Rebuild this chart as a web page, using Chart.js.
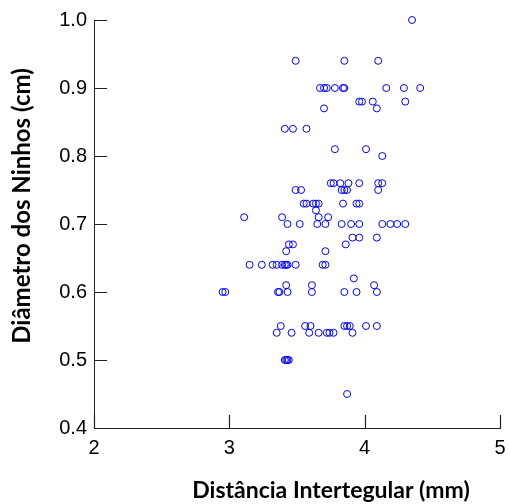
<!DOCTYPE html>
<html>
<head>
<meta charset="utf-8">
<script src="https://cdn.jsdelivr.net/npm/chart.js"></script>
<style>
  body { margin: 0; background: #fff; }
</style>
</head>
<body>
<canvas id="plots" width="508" height="504"></canvas>
<script>
// Distância intertegular (mm) - eixo X
var distancia = [
  4.35,
  3.49, 3.85, 4.10,
  3.67, 3.70, 3.72, 3.78, 3.84, 3.85, 4.16, 4.29, 4.41,
  3.96, 3.98, 4.06, 4.30,
  3.70, 4.09,
  3.41, 3.47, 3.57,
  3.78, 4.01,
  4.13,
  3.75, 3.77, 3.82, 3.88, 3.96, 4.10, 4.13,
  3.49, 3.53, 3.83, 3.85, 3.87, 4.10,
  3.55, 3.57, 3.62, 3.64, 3.66, 3.84, 3.94, 3.96,
  3.64,
  3.11, 3.39, 3.66, 3.73,
  3.43, 3.52, 3.65, 3.71, 3.83, 3.90, 3.96, 4.13, 4.19, 4.24, 4.30,
  3.91, 3.96, 4.09,
  3.44, 3.47, 3.86,
  3.42, 3.71,
  3.15, 3.24, 3.32, 3.35, 3.39, 3.41, 3.42, 3.43, 3.49, 3.69, 3.71,
  3.92,
  3.42, 3.61, 4.07,
  2.95, 2.97, 3.36, 3.37, 3.43, 3.61, 3.85, 3.94, 4.09,
  3.38, 3.56, 3.60, 3.85, 3.87, 3.89, 4.01, 4.09,
  3.35, 3.46, 3.59, 3.66, 3.72, 3.74, 3.77, 3.91,
  3.41, 3.42, 3.43, 3.44,
  3.87
];
// Diâmetro dos ninhos (cm) - eixo Y
var diametro = [
  1.00,
  0.94, 0.94, 0.94,
  0.90, 0.90, 0.90, 0.90, 0.90, 0.90, 0.90, 0.90, 0.90,
  0.88, 0.88, 0.88, 0.88,
  0.87, 0.87,
  0.84, 0.84, 0.84,
  0.81, 0.81,
  0.80,
  0.76, 0.76, 0.76, 0.76, 0.76, 0.76, 0.76,
  0.75, 0.75, 0.75, 0.75, 0.75, 0.75,
  0.73, 0.73, 0.73, 0.73, 0.73, 0.73, 0.73, 0.73,
  0.72,
  0.71, 0.71, 0.71, 0.71,
  0.70, 0.70, 0.70, 0.70, 0.70, 0.70, 0.70, 0.70, 0.70, 0.70, 0.70,
  0.68, 0.68, 0.68,
  0.67, 0.67, 0.67,
  0.66, 0.66,
  0.64, 0.64, 0.64, 0.64, 0.64, 0.64, 0.64, 0.64, 0.64, 0.64, 0.64,
  0.62,
  0.61, 0.61, 0.61,
  0.60, 0.60, 0.60, 0.60, 0.60, 0.60, 0.60, 0.60, 0.60,
  0.55, 0.55, 0.55, 0.55, 0.55, 0.55, 0.55, 0.55,
  0.54, 0.54, 0.54, 0.54, 0.54, 0.54, 0.54, 0.54,
  0.50, 0.50, 0.50, 0.50,
  0.45
];
var xTicks = [2, 3, 4, 5];
var yTicks = [0.4, 0.5, 0.6, 0.7, 0.8, 0.9, 1.0];
var xTitle = "Distância Intertegular (mm)";
var yTitle = "Diâmetro dos Ninhos (cm)";

var axisColor = "#222";
var tickFont = { family: "'Liberation Sans', Arial, sans-serif", size: 20 };

// ticks pointing inward + axis titles (placed like the original figure)
var extras = {
  id: "extras",
  afterDraw: function (chart) {
    var ctx = chart.ctx, a = chart.chartArea;
    var sx = chart.scales.x, sy = chart.scales.y;
    ctx.save();
    ctx.strokeStyle = axisColor;
    ctx.lineWidth = 1.2;
    ctx.beginPath();
    xTicks.forEach(function (v) {
      var px = Math.round(sx.getPixelForValue(v)) + 0.5;
      ctx.moveTo(px, a.bottom);
      ctx.lineTo(px, a.bottom - 13);
    });
    yTicks.forEach(function (v) {
      var py = Math.round(sy.getPixelForValue(v)) + 0.5;
      ctx.moveTo(a.left, py);
      ctx.lineTo(a.left + 13, py);
    });
    ctx.stroke();

    ctx.fillStyle = "#000";
    ctx.textAlign = "center";
    ctx.textBaseline = "middle";
    ctx.font = "bold 23px Lato, sans-serif";
    ctx.fillText(xTitle, 331, 491);
    ctx.translate(22, 206);
    ctx.rotate(-Math.PI / 2);
    ctx.font = "bold 24px Lato, sans-serif";
    ctx.fillText(yTitle, 0, 0);
    ctx.restore();
  }
};

var points = distancia.map(function (x, i) { return { x: x, y: diametro[i] }; });

plots = document.getElementById("plots");
new Chart(plots, {
  type: "scatter",
  data: {
    datasets: [{
      data: points,
      pointStyle: "circle",
      pointRadius: 3.5,
      pointHoverRadius: 3.5,
      borderWidth: 1,
      borderColor: "#0000ff",
      backgroundColor: "rgba(0,0,0,0)",
      clip: false
    }]
  },
  options: {
    responsive: false,
    animation: false,
    layout: { padding: { top: 20, right: 8, left: 0, bottom: 0 } },
    plugins: { legend: { display: false }, tooltip: { enabled: false } },
    scales: {
      x: {
        type: "linear",
        min: 2, max: 5,
        afterBuildTicks: function (s) { s.ticks = xTicks.map(function (v) { return { value: v }; }); },
        afterFit: function (s) { s.height = 76; s.paddingLeft = 0; s.paddingRight = 0; },
        grid: { display: false, drawTicks: false },
        border: { display: true, color: axisColor, width: 1 },
        ticks: { color: "#000", font: tickFont, padding: 8, maxRotation: 0,
                 callback: function (v) { return String(v); } }
      },
      y: {
        type: "linear",
        min: 0.4, max: 1.0,
        afterBuildTicks: function (s) { s.ticks = yTicks.map(function (v) { return { value: v }; }); },
        afterFit: function (s) { s.width = 94; s.paddingTop = 0; s.paddingBottom = 0; },
        grid: { display: false, drawTicks: false },
        border: { display: true, color: axisColor, width: 1 },
        ticks: { color: "#000", font: tickFont, padding: 7,
                 callback: function (v) { return v.toFixed(1); } }
      }
    }
  },
  plugins: [extras]
});
</script>
</body>
</html>
